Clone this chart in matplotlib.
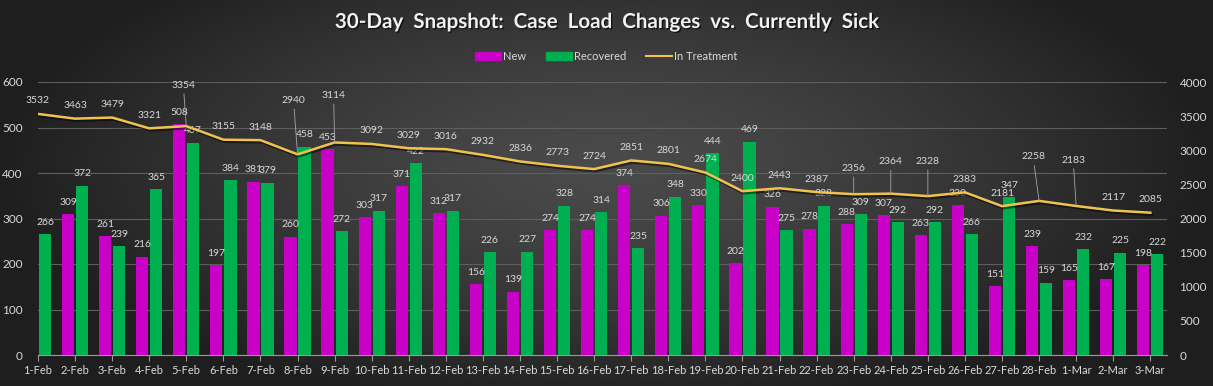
import numpy as np
import matplotlib
matplotlib.use("Agg")
from matplotlib import pyplot as plt
from matplotlib.patches import Patch
from matplotlib.lines import Line2D
import matplotlib.patheffects as pe

plt.rcParams['font.family'] = ['Lato', 'DejaVu Sans']

days = ["1-Feb", "2-Feb", "3-Feb", "4-Feb", "5-Feb", "6-Feb", "7-Feb", "8-Feb",
        "9-Feb", "10-Feb", "11-Feb", "12-Feb", "13-Feb", "14-Feb", "15-Feb",
        "16-Feb", "17-Feb", "18-Feb", "19-Feb", "20-Feb", "21-Feb", "22-Feb",
        "23-Feb", "24-Feb", "25-Feb", "26-Feb", "27-Feb", "28-Feb", "1-Mar",
        "2-Mar", "3-Mar"]
new = [None, 309, 261, 216, 508, 197, 381, 260, 453, 303, 371, 312, 156, 139,
       274, 274, 374, 306, 330, 202, 326, 278, 288, 307, 263, 330, 151, 239,
       165, 167, 198]
recovered = [266, 372, 239, 365, 467, 384, 379, 458, 272, 317, 422, 317, 226,
             227, 328, 314, 235, 348, 444, 469, 275, 328, 309, 292, 292, 266,
             347, 159, 232, 225, 222]
in_treatment = [3532, 3463, 3479, 3321, 3354, 3155, 3148, 2940, 3114, 3092,
                3029, 3016, 2932, 2836, 2773, 2724, 2851, 2801, 2674, 2400,
                2443, 2387, 2356, 2364, 2328, 2383, 2181, 2258, 2183, 2117,
                2085]

PURPLE = "#C800C8"
GREEN = "#00B050"
GOLD = "#F2C24E"
TXT = "#D9D9D9"

W, H = 1213, 386
fig = plt.figure(figsize=(W / 100, H / 100), dpi=100)

# dark radial background
bg = fig.add_axes([0, 0, 1, 1], zorder=-10)
gx, gy = np.meshgrid(np.linspace(-1, 1, 400), np.linspace(-1, 1, 130))
r = np.sqrt((gx / 1.0) ** 2 + ((gy + 0.15) / 1.3) ** 2)
shade = np.clip(0.29 - 0.17 * r ** 1.4, 0.12, 0.3)
bg.imshow(np.dstack([shade] * 3), aspect="auto", extent=[0, 1, 0, 1])
bg.axis("off")

x0, x1, ytop, ybot = 38, 1167, 82, 355
ax = fig.add_axes([x0 / W, 1 - ybot / H, (x1 - x0) / W, (ybot - ytop) / H])
ax.set_facecolor("none")
ax2 = ax.twinx()

x = np.arange(len(days))
new_v = np.array([np.nan if v is None else v for v in new], dtype=float)
bw = 0.33
ax.bar(x - 0.19, np.nan_to_num(new_v), bw, color=PURPLE, zorder=3)
ax.bar(x + 0.19, recovered, bw, color=GREEN, zorder=3)

for i in range(len(days)):
    if not np.isnan(new_v[i]):
        ax.annotate(str(int(new_v[i])), (x[i] - 0.19, new_v[i]), xytext=(0, 8.5),
                    textcoords="offset points", ha="center", va="center",
                    fontsize=7.5, color=TXT, zorder=5)
    ax.annotate(str(recovered[i]), (x[i] + 0.19, recovered[i]), xytext=(0, 8.5),
                textcoords="offset points", ha="center", va="center",
                fontsize=7.5, color=TXT, zorder=5)

ax.set_xlim(0, 30.45)
ax.set_ylim(0, 600)
ax.set_yticks(range(0, 601, 100))
ax.grid(axis="y", color="#5E5E5E", lw=0.8, zorder=0)
ax.set_xticks(x)
ax.set_xticklabels(days)
ax.tick_params(axis="x", colors="#9A9A9A", length=4, width=0.8, labelsize=8,
               labelcolor=TXT, pad=3)
ax.tick_params(axis="y", length=0, labelsize=8.5, labelcolor=TXT, pad=11)
for s in ["top", "left", "right"]:
    ax.spines[s].set_visible(False)
ax.spines["bottom"].set_color("#9A9A9A")
ax.spines["bottom"].set_linewidth(0.8)

ax2.plot(x, in_treatment, color=GOLD, lw=1.8, zorder=4,
         path_effects=[pe.SimpleLineShadow(offset=(1, -1.5), alpha=0.5), pe.Normal()])
ax2.set_ylim(0, 4000)
ax2.set_yticks(range(0, 4001, 500))
ax2.tick_params(axis="y", length=0, labelsize=8.5, labelcolor=TXT, pad=9)
for s in ax2.spines.values():
    s.set_visible(False)

# labels moved up with leader lines (pixel offsets)
lifted = {4: (-3, 41), 7: (-4, 54), 8: (-1, 47), 22: (0, 26), 23: (0, 32),
          24: (0, 35), 27: (-6, 44), 28: (-3, 46)}
for i, v in enumerate(in_treatment):
    if i in lifted:
        dx, dy = lifted[i]
        ax2.annotate(str(v), (x[i], v), xytext=(dx * 0.72, dy * 0.72),
                     textcoords="offset points", ha="center", va="center",
                     fontsize=7.5, color=TXT, zorder=6,
                     arrowprops=dict(arrowstyle="-", color="#A6A6A6", lw=0.6,
                                     shrinkA=1, shrinkB=0))
    else:
        ax2.annotate(str(v), (x[i], v), xytext=(0, 9.4),
                     textcoords="offset points", ha="center", va="center",
                     fontsize=7.5, color=TXT, zorder=6)

fig.text(0.5, 1 - 22 / H, "30-Day  Snapshot:  Case  Load  Changes  vs.  Currently  Sick",
         ha="center", va="center", fontsize=14.8, fontweight="bold", color="#F2F2F2",
         path_effects=[pe.withSimplePatchShadow(offset=(1, -1), shadow_rgbFace="black",
                                                alpha=0.6)])

handles = [Patch(color=PURPLE), Patch(color=GREEN), Line2D([], [], color=GOLD, lw=1.5)]
fig.legend(handles, ["New", "Recovered", "In Treatment"], loc="center",
           bbox_to_anchor=(0.5, 1 - 56 / H), ncol=3, frameon=False, fontsize=8,
           labelcolor=TXT, handlelength=2.3, handleheight=0.7, handletextpad=0.2,
           columnspacing=1.8)

fig.savefig("out.png", dpi=100)
